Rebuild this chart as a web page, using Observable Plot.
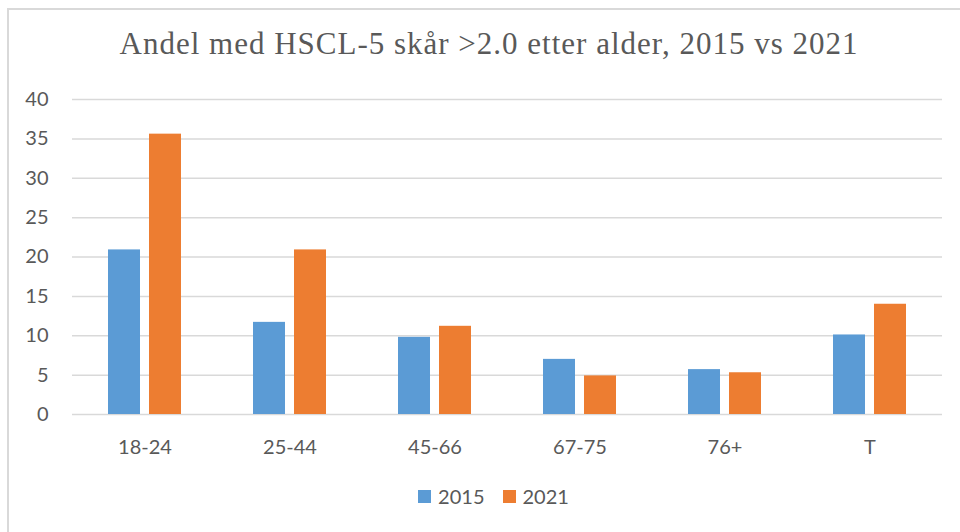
<!DOCTYPE html>
<html>
<head>
<meta charset="utf-8">
<script src="https://cdn.jsdelivr.net/npm/d3@7"></script>
<script src="https://cdn.jsdelivr.net/npm/@observablehq/plot@0.6"></script>
<style>
  html, body { margin: 0; padding: 0; background: #fff; width: 960px; height: 532px; overflow: hidden; }
  #frame { position: absolute; left: 7px; top: 8px; width: 1000px; height: 600px; border-left: 2px solid #d9d9d9; border-top: 2px solid #d9d9d9; box-sizing: border-box; }
  #title { position: absolute; left: 0; width: 978px; top: 26px; text-align: center; font-family: "Liberation Serif", serif; font-size: 31px; letter-spacing: 1px; color: #595959; white-space: nowrap; }
  #chart { position: absolute; left: 0; top: 80px; }
  #legend { position: absolute; left: 0; width: 987px; top: 484px; display: flex; justify-content: center; align-items: center; font-family: Lato, sans-serif; font-size: 20px; color: #595959; }
  .item { display: flex; align-items: center; margin: 0 9px; }
  .sw { width: 13px; height: 13px; margin-right: 7px; }
</style>
</head>
<body>
<div id="frame"></div>
<div id="title">Andel med HSCL-5 skår &gt;2.0 etter alder, 2015 vs 2021</div>
<div id="chart"></div>
<div id="legend"></div>
<script>
const categories = ["18-24", "25-44", "45-66", "67-75", "76+", "T"];
const years = ["2015", "2021"];
const values2015 = [20.9, 11.7, 9.8, 7.0, 5.7, 10.1];
const values2021 = [35.6, 20.9, 11.2, 4.9, 5.3, 14.0];
const yTicks = [0, 5, 10, 15, 20, 25, 30, 35, 40];
const colors = ["#5B9BD5", "#ED7D31"];

const rows = [];
categories.forEach((c, i) => {
  rows.push({category: c, year: years[0], value: values2015[i]});
  rows.push({category: c, year: years[1], value: values2021[i]});
});

const plot = Plot.plot({
  width: 960,
  height: 390,
  marginLeft: 71,
  marginRight: 18,
  marginTop: 19,
  marginBottom: 56,
  style: {fontFamily: "Lato, sans-serif", fontSize: "20px", color: "#595959", background: "transparent"},
  fx: {domain: categories, padding: 0, tickSize: 0, tickPadding: 25, label: null, axis: "bottom"},
  x: {domain: years, paddingInner: 0.211, paddingOuter: 0.867, axis: null},
  y: {domain: [0, 40], ticks: yTicks, tickSize: 0, tickPadding: 24, label: null},
  color: {domain: years, range: colors},
  marks: [
    Plot.ruleY(yTicks, {stroke: "#d9d9d9", strokeWidth: 1.5}),
    Plot.barY(rows, {fx: "category", x: "year", y: "value", fill: "year"})
  ]
});
document.getElementById("chart").appendChild(plot);

const legend = document.getElementById("legend");
years.forEach((y, i) => {
  const item = document.createElement("div");
  item.className = "item";
  const sw = document.createElement("div");
  sw.className = "sw";
  sw.style.background = colors[i];
  const t = document.createElement("span");
  t.textContent = y;
  item.appendChild(sw);
  item.appendChild(t);
  legend.appendChild(item);
});
</script>
</body>
</html>
